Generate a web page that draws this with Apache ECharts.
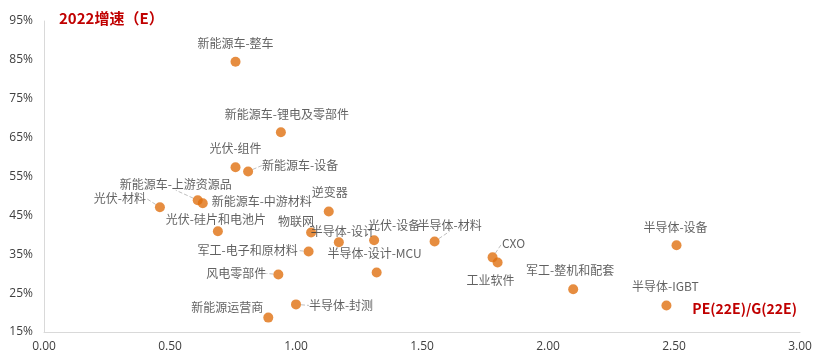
<!DOCTYPE html>
<html>
<head>
<meta charset="utf-8">
<script src="https://cdn.jsdelivr.net/npm/echarts@6/dist/echarts.min.js"></script>
<style>html,body{margin:0;padding:0;background:#fff}#c{width:819px;height:358px}</style>
</head>
<body>
<div id="c"></div>
<script>
// Data
const names = ['新能源车-整车','新能源车-锂电及零部件','光伏-组件','新能源车-设备','新能源车-上游资源品','新能源车-中游材料','光伏-材料','光伏-硅片和电池片','逆变器','物联网','半导体-设计','光伏-设备','半导体-材料','军工-电子和原材料','半导体-设计-MCU','风电零部件','半导体-封测','新能源运营商','CXO','工业软件','军工-整机和配套','半导体-设备','半导体-IGBT'];
const peg = [0.76,0.94,0.76,0.81,0.61,0.63,0.46,0.69,1.13,1.06,1.17,1.31,1.55,1.05,1.32,0.93,1.00,0.89,1.78,1.80,2.10,2.51,2.47];
const growth = [84.5,66.4,57.4,56.3,48.9,48.1,47.1,40.9,46.0,40.6,38.1,38.6,38.3,35.7,30.3,29.8,22.1,18.7,34.2,32.9,26.0,37.3,21.8];
const xTicks = ['0.00','0.50','1.00','1.50','2.00','2.50','3.00'];

// Label placement (style): offset of label centre from the point, and whether a leader line is drawn
const labelOffsets = [[0,-18],[6,-18],[0,-19],[52,-6],[-22,-16],[59,-2],[-40,-9],[-2,-12],[1,-19],[-15,-11],[4,-11],[20,-15],[15,-16],[-61,-1],[-2,-19],[-42,-1],[45,1],[-41,-10],[21,-14],[-7,18],[-3,-19],[-1,-18],[-1,-19]];
const withLine = [3,4,6,12,13,15,16,18];

const data = names.map((n,i)=>({
  name:n, value:[peg[i],growth[i]],
  labelLine:{show: withLine.indexOf(i)>=0}
}));

const chart = echarts.init(document.getElementById('c'));
chart.setOption({
  animation:false,
  title:[
    {text:'2022增速（E）',left:54,top:6,textStyle:{color:'#C00000',fontSize:15,fontWeight:'bold',fontFamily:'Noto Sans CJK SC'}},
    {text:'PE(22E)/G(22E)',right:17,top:297,textStyle:{color:'#C00000',fontSize:14,fontWeight:'bold',fontFamily:'Noto Sans CJK SC'}}
  ],
  grid:{left:44,right:19,top:21,bottom:26},
  xAxis:{type:'value',min:0,max:3,interval:0.5,
    axisLine:{show:true,lineStyle:{color:'#d9d9d9'}},axisTick:{show:false},splitLine:{show:false},
    axisLabel:{color:'#404040',fontSize:12,fontFamily:'Open Sans',margin:9,formatter:(v)=>xTicks[Math.round(v/0.5)]}},
  yAxis:{type:'value',min:15,max:95,interval:10,
    axisLine:{show:true,lineStyle:{color:'#d9d9d9'}},axisTick:{show:false},splitLine:{show:false},
    axisLabel:{color:'#404040',fontSize:12,fontFamily:'Open Sans',margin:11,formatter:'{value}%'}},
  series:[{
    type:'scatter',symbolSize:10,
    itemStyle:{color:'#E07010'},
    data:data,
    label:{show:true,position:'inside',formatter:'{b}',color:'#3a3a3a',fontSize:12,fontFamily:'Noto Sans CJK SC'},
    labelLine:{show:false,lineStyle:{color:'#bfbfbf',width:1,type:'dashed'}},
    labelLayout:function(p){const o=labelOffsets[p.dataIndex];return {dx:o[0],dy:o[1]};}
  }]
});
</script>
</body>
</html>
